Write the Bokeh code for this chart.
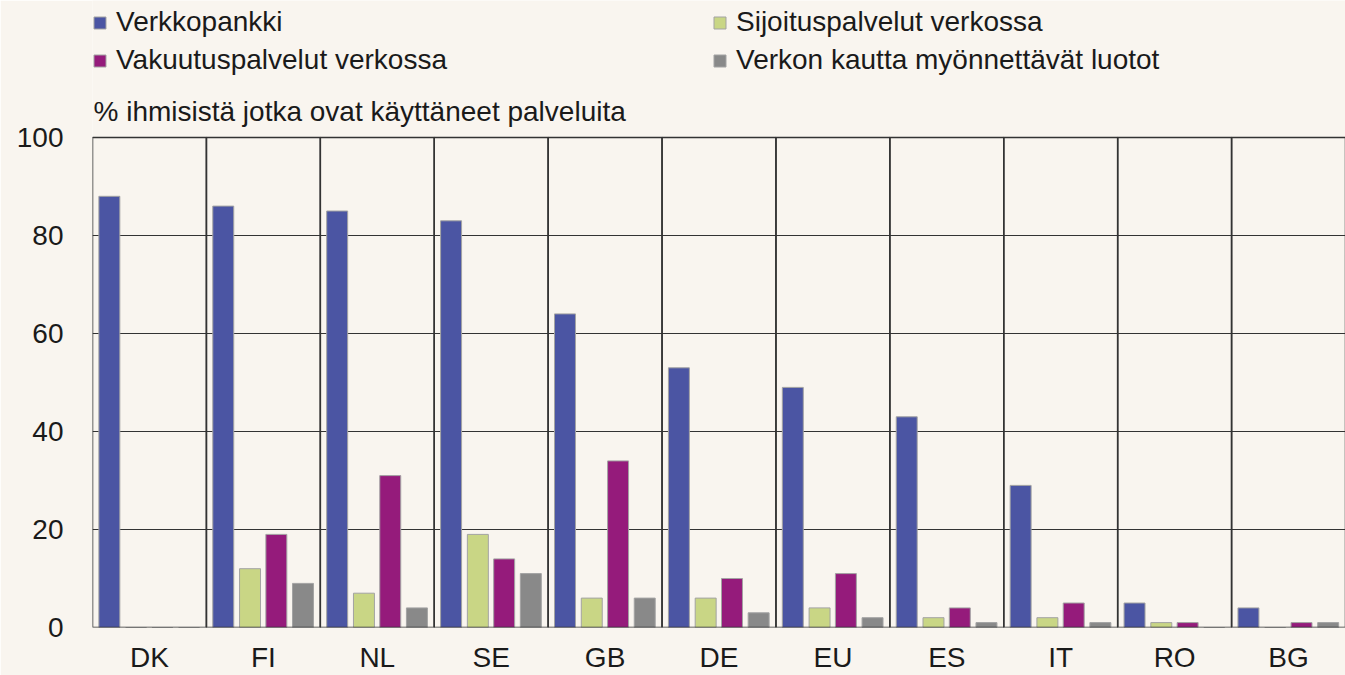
from bokeh.plotting import figure
from bokeh.models import (ColumnDataSource, FactorRange, Range1d, FixedTicker,
                          Legend, LegendItem, Label)
from bokeh.transform import dodge
from bokeh.embed import file_html
from bokeh.resources import INLINE

# ---- data ----
countries = ["DK", "FI", "NL", "SE", "GB", "DE", "EU", "ES", "IT", "RO", "BG"]
verkkopankki = [88, 86, 85, 83, 64, 53, 49, 43, 29, 5, 4]
sijoitus = [0, 12, 7, 19, 6, 6, 4, 2, 2, 1, 0]
vakuutus = [0, 19, 31, 14, 34, 10, 11, 4, 5, 1, 1]
luotot = [0, 9, 4, 11, 6, 3, 2, 1, 1, 0, 1]
series_names = ["Verkkopankki", "Sijoituspalvelut verkossa",
                "Vakuutuspalvelut verkossa", "Verkon kautta myönnettävät luotot"]
y_ticks = [0, 20, 40, 60, 80, 100]
y_title = "% ihmisistä jotka ovat käyttäneet palveluita"

# ---- layout / style ----
W, H = 1345, 675
LEFT, BOTTOM = 92, 48
PLOT_TOP_PX = 137            # pixel row of the 100 line
frame_h = H - BOTTOM
y_end = y_ticks[-1] * frame_h / (frame_h - PLOT_TOP_PX)   # frame extends up to hold legend

BG = "#F9F5EF"
FONT = "Liberation Sans"
TXT = "#1a1a1a"
colors = ["#4B55A3", "#C9D685", "#951B7B", "#898989"]
offsets = [-0.352, -0.117, 0.114, 0.348]
bar_w = 0.184

src = ColumnDataSource(dict(country=countries, s0=verkkopankki, s1=sijoitus,
                            s2=vakuutus, s3=luotot,
                            top=[y_ticks[-1]] * len(countries)))

p = figure(width=W, height=H, x_range=FactorRange(*countries, range_padding=0),
           y_range=Range1d(0, y_end), output_backend="svg", toolbar_location=None,
           min_border_left=LEFT, min_border_right=0, min_border_top=0,
           min_border_bottom=BOTTOM)
p.background_fill_color = BG
p.border_fill_color = BG
p.outline_line_color = None

renderers = []
for i, key in enumerate(["s0", "s1", "s2", "s3"]):
    r = p.vbar(x=dodge("country", offsets[i], range=p.x_range), top=key, width=bar_w,
               source=src, fill_color=colors[i], line_color="#a3a3a3", line_width=1)
    renderers.append(r)

# group boxes (frame + separators)
p.vbar(x="country", top="top", bottom=0, width=1.0, source=src, fill_alpha=0,
       line_color="#333333", line_width=1.5)

# grid
p.xgrid.grid_line_color = None
p.ygrid.ticker = FixedTicker(ticks=y_ticks)
p.ygrid.grid_line_color = "#333333"
p.ygrid.grid_line_width = 1.2

# axes
for ax in (p.xaxis[0], p.yaxis[0]):
    ax.axis_line_color = None
    ax.major_tick_line_color = None
    ax.minor_tick_line_color = None
    ax.major_label_text_font = FONT
    ax.major_label_text_font_size = "28px"
    ax.major_label_text_color = TXT
p.yaxis.ticker = FixedTicker(ticks=y_ticks)
p.yaxis.major_label_standoff = 23
p.xaxis.major_label_standoff = 8

# y title
p.add_layout(Label(x=1, y=frame_h - 111, x_units="screen", y_units="screen", text=y_title,
                   text_font=FONT, text_font_size="28px", text_color=TXT,
                   text_baseline="alphabetic"))

# legend (two columns at top)
order = [0, 2, 1, 3]
items = [LegendItem(label=series_names[k], renderers=[renderers[k]]) for k in order]
leg = Legend(items=items, ncols=2, location=(0, frame_h - 76),
             label_text_font=FONT, label_text_font_size="28px",
             label_text_color=TXT, glyph_width=15, glyph_height=15,
             label_standoff=9, spacing=6, label_width=590, padding=0, margin=0,
             border_line_alpha=0, background_fill_alpha=0)
p.add_layout(leg)

open("out.html", "w").write(file_html(p, INLINE))
